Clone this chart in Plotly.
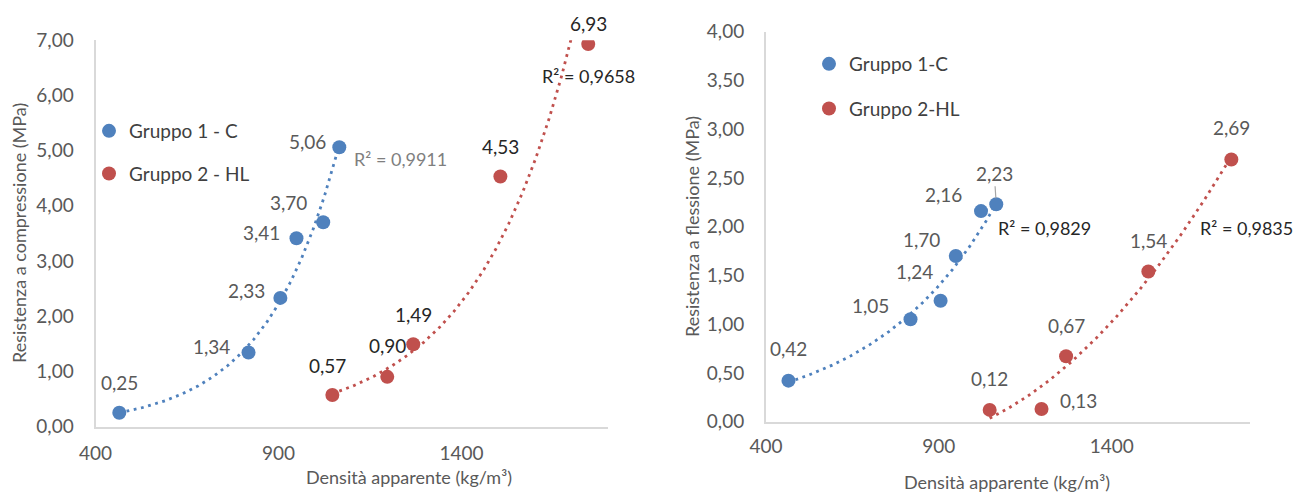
import numpy as np
import plotly.graph_objects as go

# ---------------- data ----------------
dens_c = [465, 818, 905, 949, 1022, 1066]          # Gruppo 1 - C, density (kg/m3)
dens_hl = [1047, 1197, 1268, 1506, 1746]           # Gruppo 2 - HL, density (kg/m3)

comp_c = [0.25, 1.34, 2.33, 3.41, 3.70, 5.06]       # compressive strength (MPa)
comp_hl = [0.57, 0.90, 1.49, 4.53, 6.93]

flex_c = [0.42, 1.05, 1.24, 1.70, 2.16, 2.23]       # flexural strength (MPa)
flex_hl = [0.12, 0.13, 0.67, 1.54, 2.69]

r2_comp = ["R² = 0,9911", "R² = 0,9658"]
r2_flex = ["R² = 0,9829", "R² = 0,9835"]

legend_left = ["Gruppo 1 - C", "Gruppo 2 - HL"]
legend_right = ["Gruppo 1-C", "Gruppo 2-HL"]

x_ticks = [400, 900, 1400]
y_ticks_left = [0, 1, 2, 3, 4, 5, 6, 7]
y_ticks_right = [0, 0.5, 1, 1.5, 2, 2.5, 3, 3.5, 4]

# ---------------- style ----------------
W, H = 1299, 494
BLUE = "#4F81BD"
RED = "#C0504D"
GRAY = "#595959"
DARK = "#262626"
FONT = "Lato, 'Open Sans', sans-serif"
FS = 19

def px(x):
    return x / W

def py(y):
    return 1 - y / H

# label offsets (px, dy positive = down)
off_comp_c = [(0, -30), (-37, -6), (-34, -7), (-35, -6), (-35, -20), (-32, -6)]
off_comp_hl = [(-5, -30), (0, -31), (0, -30), (0, -30), (0, -21)]
off_flex_c = [(0, -32), (-40, -14), (-26, -29), (-34, -16), (-38, -17), (-2, -31)]
off_flex_hl = [(0, -31), (37, -8), (0, -31), (0, -31), (0, -32)]


def fit_curve(xs, ys, kind):
    xs = np.asarray(xs, float)
    ys = np.asarray(ys, float)
    xf = np.linspace(xs.min(), xs.max(), 300)
    if kind == "exp":
        b, a = np.polyfit(xs, np.log(ys), 1)
        return xf, np.exp(a + b * xf)
    c = np.polyfit(xs, ys, 2)
    return xf, np.polyval(c, xf)


fig = go.Figure()

def add_group(xs, ys, color, name, xa, ya, legend, kind):
    xf, yf = fit_curve(xs, ys, kind)
    fig.add_trace(go.Scatter(x=xf, y=yf, mode="lines", xaxis=xa, yaxis=ya,
                             line=dict(color=color, width=2.8, dash="2.8px,4.6px"),
                             showlegend=False, hoverinfo="skip"))
    fig.add_trace(go.Scatter(x=xs, y=ys, mode="markers", xaxis=xa, yaxis=ya,
                             marker=dict(color=color, size=14),
                             name=name, legend=legend, legendgroup=name + xa))

add_group(dens_c, comp_c, BLUE, legend_left[0], "x", "y", "legend", "exp")
add_group(dens_hl, comp_hl, RED, legend_left[1], "x", "y", "legend", "exp")
add_group(dens_c, flex_c, BLUE, legend_right[0], "x2", "y2", "legend2", "exp")
add_group(dens_hl, flex_hl, RED, legend_right[1], "x2", "y2", "legend2", "poly")

annotations = []

def add_labels(xs, ys, offs, color, xref, yref, leader_idx=None):
    for i, (xv, yv) in enumerate(zip(xs, ys)):
        dx, dy = offs[i]
        txt = f"{yv:.2f}".replace(".", ",")
        if leader_idx is not None and i == leader_idx:
            annotations.append(dict(x=xv, y=yv, xref=xref, yref=yref, text=txt,
                                    showarrow=True, ax=dx, ay=dy, arrowhead=0,
                                    arrowwidth=1.2, arrowcolor="#a6a6a6", standoff=6,
                                    font=dict(family=FONT, size=FS, color=color)))
        else:
            annotations.append(dict(x=xv, y=yv, xref=xref, yref=yref, text=txt,
                                    showarrow=False, xshift=dx, yshift=-dy,
                                    xanchor="center", yanchor="middle",
                                    font=dict(family=FONT, size=FS, color=color)))

add_labels(dens_c, comp_c, off_comp_c, GRAY, "x", "y")
add_labels(dens_hl, comp_hl, off_comp_hl, DARK, "x", "y")
add_labels(dens_c, flex_c, off_flex_c, GRAY, "x2", "y2", leader_idx=5)
add_labels(dens_hl, flex_hl, off_flex_hl, GRAY, "x2", "y2")

def free_text(text, x, y, color, size=FS, angle=0):
    annotations.append(dict(text=text, x=px(x), y=py(y), xref="paper", yref="paper",
                            showarrow=False, xanchor="center", yanchor="middle",
                            textangle=angle, font=dict(family=FONT, size=size, color=color)))

# R² texts
free_text(r2_comp[0], 400, 159, "#7f7f7f", size=18)
free_text(r2_comp[1], 588, 76, DARK, size=18)
free_text(r2_flex[0], 1044, 228, DARK, size=18)
free_text(r2_flex[1], 1246, 228, DARK, size=18)

# axis titles
free_text("Densità apparente (kg/m³)", 409, 477, GRAY, size=18)
free_text("Densità apparente (kg/m³)", 1007, 482, GRAY, size=18)
free_text("Resistenza a compressione (MPa)", 19, 233, GRAY, size=18, angle=-90)
free_text("Resistenza a flessione (MPa)", 692, 227, GRAY, size=18, angle=-90)

axis_common = dict(showgrid=False, zeroline=False, showline=True, linecolor="#d9d9d9",
                   linewidth=2, ticks="", automargin=False,
                   tickfont=dict(family=FONT, size=FS, color=GRAY))

fig.update_layout(
    width=W, height=H,
    margin=dict(l=0, r=0, t=0, b=0, pad=0),
    paper_bgcolor="white", plot_bgcolor="white",
    separators=",.",
    showlegend=True,
    annotations=annotations,
    xaxis=dict(domain=[px(95.5), px(608)], range=[400, 1800], tickvals=x_ticks,
               tickformat="d", anchor="y", ticklabelstandoff=9, **axis_common),
    yaxis=dict(domain=[py(426.5), py(40.2)], range=[0, 7], tickvals=y_ticks_left,
               tickformat=".2f", anchor="x", ticklabelstandoff=16, **axis_common),
    xaxis2=dict(domain=[px(766), px(1250)], range=[400, 1800], tickvals=x_ticks,
                tickformat="d", anchor="y2", ticklabelstandoff=7, **axis_common),
    yaxis2=dict(domain=[py(421.6), py(31.8)], range=[0, 4], tickvals=y_ticks_right,
                tickformat=".2f", anchor="x2", ticklabelstandoff=16, **axis_common),
    legend=dict(x=px(89), y=py(112), xanchor="left", yanchor="top",
                bgcolor="rgba(0,0,0,0)", traceorder="grouped", tracegroupgap=15,
                font=dict(family=FONT, size=FS, color="#404040")),
    legend2=dict(x=px(809), y=py(45), xanchor="left", yanchor="top",
                 bgcolor="rgba(0,0,0,0)", traceorder="grouped", tracegroupgap=17,
                 font=dict(family=FONT, size=FS, color="#404040")),
)

fig.write_html("out.html", config={"displayModeBar": False},
               post_script="document.body.style.margin='0';")
